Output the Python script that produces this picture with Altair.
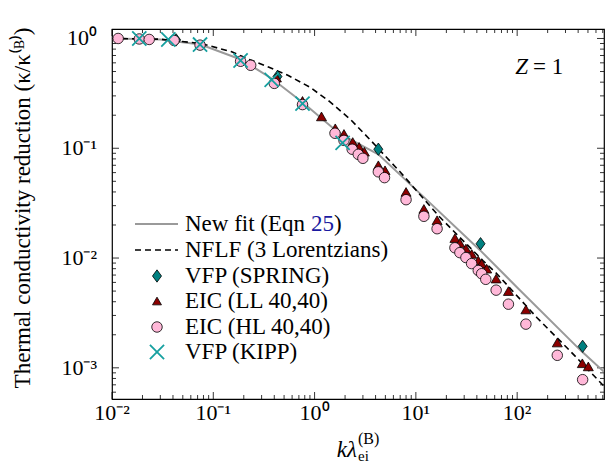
import altair as alt
import pandas as pd

W, H = 492, 370
XDOM = [0.01, 720]
YDOM = [5.2e-4, 1.22]
FONT = "Liberation Serif"

# ---- curves ----
fit_x = [0.01, 0.03, 0.075, 0.19, 0.38, 0.77, 1.78, 4.26, 10, 43, 100, 430, 720]
fit_y = [1.0, 0.98, 0.88, 0.64, 0.43, 0.26, 0.135, 0.088, 0.042, 0.0118, 0.0054, 0.00142, 0.00092]

nflf_x = [0.01, 0.03, 0.075, 0.15, 0.23, 0.35, 0.55, 0.9, 1.42, 2.3, 3.52, 6.97, 17.3, 27.2, 45.9, 63, 157, 332, 720]
nflf_y = [1.0, 0.985, 0.9, 0.76, 0.64, 0.55, 0.46, 0.36, 0.265, 0.18, 0.12, 0.061, 0.0235, 0.0154, 0.0095, 0.0072, 0.00286, 0.00143, 0.00068]

# ---- markers ----
spring_x = [0.043, 0.43, 4.26, 43.5, 443]
spring_y = [0.97, 0.45, 0.098, 0.0135, 0.00157]

ll_x = [0.42, 0.76, 1.17, 1.6, 1.95, 2.38, 2.75, 3.1, 4.26, 4.96, 8.0, 12.0, 16.2, 24.3, 27.2,
        31.2, 35.6, 41.3, 44.6, 50, 62, 82, 122, 249, 440, 504]
ll_y = [0.44, 0.27, 0.195, 0.152, 0.135, 0.114, 0.103, 0.093, 0.070, 0.063, 0.040, 0.028, 0.0221,
        0.0152, 0.0137, 0.0122, 0.0109, 0.0095, 0.0089, 0.0080, 0.0065, 0.0050, 0.0034, 0.0017,
        0.0011, 0.00103]

hl_x = [0.0115, 0.0186, 0.0233, 0.041, 0.074, 0.186, 0.234, 0.40, 0.76, 1.59, 1.95, 2.35, 2.7, 3.0,
        4.26, 4.9, 8.0, 12.0, 16.2, 24.3, 27.2, 31.2, 35.5, 41.3, 44.6, 49, 62, 82, 122, 249, 443]
hl_y = [1.0, 0.99, 0.98, 0.96, 0.87, 0.62, 0.57, 0.39, 0.25, 0.137, 0.118, 0.098, 0.088, 0.081,
        0.061, 0.054, 0.034, 0.024, 0.0185, 0.0124, 0.0112, 0.0101, 0.0089, 0.0077, 0.0072, 0.0064,
        0.0051, 0.0038, 0.0025, 0.0013, 0.00078]

kipp_x = [0.0186, 0.036, 0.074, 0.186, 0.377, 0.76, 1.89]
kipp_y = [1.0, 0.98, 0.88, 0.63, 0.42, 0.255, 0.112]

# ---- ticks ----
x_major = [0.01, 0.1, 1, 10, 100]
x_labels = ["10⁻²", "10⁻¹", "10⁰", "10¹", "10²"]
y_major = [0.001, 0.01, 0.1, 1]
y_labels = ["10⁻³", "10⁻²", "10⁻¹", "10⁰"]
x_minor = [k * 10.0 ** e for e in range(-2, 3) for k in range(2, 10) if k * 10.0 ** e < XDOM[1]]
y_minor = [k * 10.0 ** e for e in range(-4, 1) for k in range(2, 10)
           if YDOM[0] < k * 10.0 ** e < YDOM[1]]

legend_labels = ["New fit (Eqn ", "NFLF (3 Lorentzians)", "VFP (SPRING)",
                 "EIC (LL 40,40)", "EIC (HL 40,40)", "VFP (KIPP)"]

xs = alt.Scale(type="log", domain=XDOM, nice=False)
ys = alt.Scale(type="log", domain=YDOM, nice=False)


def X(f="x"):
    return alt.X(f"{f}:Q", scale=xs, axis=None)


def Y(f="y"):
    return alt.Y(f"{f}:Q", scale=ys, axis=None)


def df(x, y):
    return pd.DataFrame({"x": x, "y": y})


TEAL = "#008080"
CROSS = "#16a0a0"
RED = "#8b0000"
PINK = "#ffb8d8"
DIAMOND = "M0,-1.3L0.95,0L0,1.3L-0.95,0Z"
XPATH = "M-1,-1L1,1M-1,1L1,-1"
FS = 23

fit = alt.Chart(df(fit_x, fit_y)).mark_line(color="#9a9a9a", strokeWidth=2, clip=True).encode(x=X(), y=Y())
nflf = alt.Chart(df(nflf_x, nflf_y)).mark_line(color="black", strokeWidth=1.6, strokeDash=[6, 4], clip=True).encode(x=X(), y=Y())
spring = alt.Chart(df(spring_x, spring_y)).mark_point(shape=DIAMOND, filled=True, fill=TEAL, fillOpacity=1, stroke="black", strokeWidth=0.8, size=90, opacity=1).encode(x=X(), y=Y())
ll = alt.Chart(df(ll_x, ll_y)).mark_point(shape="triangle-up", filled=True, fill=RED, fillOpacity=1, stroke="black", strokeWidth=0.8, size=100, opacity=1).encode(x=X(), y=Y())
hl = alt.Chart(df(hl_x, hl_y)).mark_point(shape="circle", filled=True, fill=PINK, fillOpacity=1, stroke="black", strokeWidth=0.8, size=110, opacity=1).encode(x=X(), y=Y())
kipp = alt.Chart(df(kipp_x, kipp_y)).mark_point(shape=XPATH, filled=False, stroke=CROSS, strokeWidth=1.8, size=200, opacity=1).encode(x=X(), y=Y())


def vticks(vals, L):
    d = pd.DataFrame({"v": vals})
    b = alt.Chart(d).mark_rule(color="black", strokeWidth=0.8).encode(x=X("v"), y=alt.value(H), y2=alt.value(H - L))
    t = alt.Chart(d).mark_rule(color="black", strokeWidth=0.8).encode(x=X("v"), y=alt.value(0), y2=alt.value(L))
    return b + t


def hticks(vals, L):
    d = pd.DataFrame({"v": vals})
    l = alt.Chart(d).mark_rule(color="black", strokeWidth=0.8).encode(y=Y("v"), x=alt.value(0), x2=alt.value(L))
    r = alt.Chart(d).mark_rule(color="black", strokeWidth=0.8).encode(y=Y("v"), x=alt.value(W), x2=alt.value(W - L))
    return l + r


ticks = vticks(x_major, 7) + vticks(x_minor, 4) + hticks(y_major, 7) + hticks(y_minor, 4)

xlab = alt.Chart(pd.DataFrame({"v": x_major, "t": x_labels})).mark_text(
    font=FONT, fontSize=22, baseline="middle", align="center").encode(x=X("v"), y=alt.value(H + 14), text="t:N")
ylab = alt.Chart(pd.DataFrame({"v": y_major, "t": y_labels})).mark_text(
    font=FONT, fontSize=22, baseline="middle", align="right").encode(y=Y("v"), x=alt.value(-15), text="t:N")

one = pd.DataFrame({"a": [0]})

ytitle = alt.Chart(one).mark_text(font=FONT, fontSize=FS, angle=270, baseline="middle", align="center").encode(
    x=alt.value(-89), y=alt.value(179), text=alt.value("Thermal conductivity reduction (κ/κ⁽ᴮ⁾)"))
xt1 = alt.Chart(one).mark_text(font=FONT, fontSize=FS, fontStyle="italic", baseline="alphabetic", align="right").encode(
    x=alt.value(245), y=alt.value(428), text=alt.value("kλ"))
xt2 = alt.Chart(one).mark_text(font=FONT, fontSize=16, baseline="alphabetic", align="left").encode(
    x=alt.value(246), y=alt.value(415), text=alt.value("(B)"))
xt3 = alt.Chart(one).mark_text(font=FONT, fontSize=15, baseline="alphabetic", align="left").encode(
    x=alt.value(246), y=alt.value(432), text=alt.value("ei"))

z1 = alt.Chart(one).mark_text(font=FONT, fontSize=FS, fontStyle="italic", baseline="middle", align="right").encode(
    x=alt.value(416), y=alt.value(38), text=alt.value("Z"))
z2 = alt.Chart(one).mark_text(font=FONT, fontSize=FS, baseline="middle", align="left").encode(
    x=alt.value(421), y=alt.value(38), text=alt.value("= 1"))

# legend
rows = [195, 221, 247, 272, 298, 323]
LX0, LX1, LM, LT = 23, 66, 45, 73
leg = []
leg.append(alt.Chart(one).mark_rule(color="#9a9a9a", strokeWidth=2).encode(x=alt.value(LX0), x2=alt.value(LX1), y=alt.value(rows[0])))
leg.append(alt.Chart(one).mark_rule(color="black", strokeWidth=1.6, strokeDash=[6, 4]).encode(x=alt.value(LX0), x2=alt.value(LX1), y=alt.value(rows[1])))
leg.append(alt.Chart(one).mark_point(shape=DIAMOND, filled=True, fill=TEAL, fillOpacity=1, stroke="black", strokeWidth=0.8, size=90, opacity=1).encode(x=alt.value(LM), y=alt.value(rows[2])))
leg.append(alt.Chart(one).mark_point(shape="triangle-up", filled=True, fill=RED, fillOpacity=1, stroke="black", strokeWidth=0.8, size=80, opacity=1).encode(x=alt.value(LM), y=alt.value(rows[3])))
leg.append(alt.Chart(one).mark_point(shape="circle", filled=True, fill=PINK, fillOpacity=1, stroke="black", strokeWidth=0.8, size=110, opacity=1).encode(x=alt.value(LM), y=alt.value(rows[4])))
leg.append(alt.Chart(one).mark_point(shape=XPATH, filled=False, stroke=CROSS, strokeWidth=1.8, size=200, opacity=1).encode(x=alt.value(LM), y=alt.value(rows[5])))
for lab, ry in zip(legend_labels, rows):
    leg.append(alt.Chart(one).mark_text(font=FONT, fontSize=FS, baseline="middle", align="left").encode(
        x=alt.value(LT), y=alt.value(ry), text=alt.value(lab)))
leg.append(alt.Chart(one).mark_text(font=FONT, fontSize=FS, baseline="middle", align="left", color="#1a1aa0").encode(
    x=alt.value(LT + 126), y=alt.value(rows[0]), text=alt.value("25")))
leg.append(alt.Chart(one).mark_text(font=FONT, fontSize=FS, baseline="middle", align="left").encode(
    x=alt.value(LT + 149), y=alt.value(rows[0]), text=alt.value(")")))

chart = alt.layer(
    ticks, fit, nflf, spring, ll, hl, kipp, xlab, ylab, ytitle, xt1, xt2, xt3, z1, z2, *leg
).properties(
    width=W, height=H,
    autosize=alt.AutoSizeParams(type="none"),
    padding={"left": 104, "top": 21, "right": 4, "bottom": 65},
).configure_view(stroke="black", strokeWidth=1.2)

chart.save("out.html", embed_options={"renderer": "svg", "actions": False})
